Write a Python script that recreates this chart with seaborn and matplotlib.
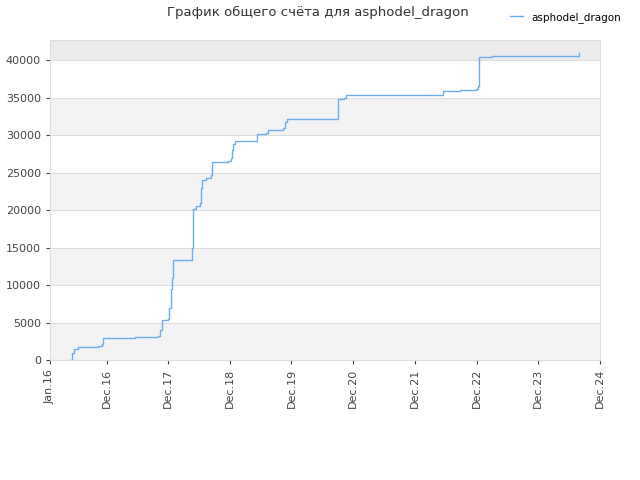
import matplotlib
matplotlib.use("Agg")
import matplotlib.pyplot as plt
import seaborn as sns
import pandas as pd
import matplotlib.dates as mdates

dates = ["2016-04-23","2016-05-11","2016-05-23","2016-06-15","2016-07-21","2016-10-12","2016-11-05","2016-11-11",
         "2017-05-08","2017-05-20","2017-10-04","2017-10-15","2017-10-27","2017-12-02","2017-12-08","2017-12-20","2017-12-26",
         "2018-01-01","2018-04-12","2018-04-18","2018-04-29","2018-05-17","2018-06-10","2018-06-16","2018-06-22","2018-07-10",
         "2018-08-14","2018-08-20","2018-11-23","2018-12-05","2018-12-11","2018-12-17","2018-12-29","2019-05-03","2019-05-09",
         "2019-07-01","2019-07-13","2019-10-10","2019-10-22","2019-11-03","2020-08-26","2020-09-01","2020-10-06","2020-10-18",
         "2021-07-13","2021-07-24","2022-05-07","2022-05-18","2022-08-22","2022-11-25","2022-12-07","2022-12-13","2022-12-18",
         "2023-02-28","2023-03-12","2024-07-23","2024-07-29"]
scores = [0,1000,1500,1700,1800,1900,2100,3000,
          3000,3100,3200,4000,5300,5500,7000,9500,11000,
          13300,13300,15000,20200,20500,21000,23000,24000,24300,
          24700,26400,26500,27000,28000,28800,29200,29200,30100,
          30300,30700,30900,31800,32200,32200,34800,34900,35400,
          35400,35300,35300,35900,36000,36100,36500,39000,40400,
          40500,40600,40600,40900]
tick_labels = ["Jan.16","Dec.16","Dec.17","Dec.18","Dec.19","Dec.20","Dec.21","Dec.22","Dec.23","Dec.24"]
tick_dates = ["2016-01-01","2016-12-01","2017-12-01","2018-12-01","2019-12-01","2020-12-01","2021-12-01","2022-12-01","2023-12-01","2024-12-01"]

df = pd.DataFrame({"date": pd.to_datetime(dates), "score": scores})

fig = plt.figure(figsize=(6.4, 4.8), dpi=100)
ax = fig.add_axes([50/640, 120/480, 550/640, 320/480])
ymax = 42700
for i, lo in enumerate(range(0, 45000, 5000)):
    c = "#f3f3f3" if i % 2 == 0 else "white"
    if lo == 40000:
        c = "#ececec"
    ax.axhspan(lo, min(lo + 5000, ymax), color=c, zorder=0, lw=0)
sns.lineplot(data=df, x="date", y="score", drawstyle="steps-post", color="#6aaef0", lw=1,
             ax=ax, label="asphodel_dragon", legend=False)
ax.set_xlim(pd.Timestamp("2016-01-01"), pd.Timestamp("2024-12-01"))
ax.set_ylim(0, ymax)
ax.set_yticks(range(0, 45000, 5000))
ax.set_xticks(pd.to_datetime(tick_dates))
ax.set_xticklabels(tick_labels, rotation=90)
ax.tick_params(labelsize=8, colors="#444444", length=3)
ax.grid(axis="y", color="#dddddd", lw=0.8)
ax.set_axisbelow(True)
for s in ax.spines.values():
    s.set_color("#dddddd")
ax.set_xlabel(""); ax.set_ylabel("")
fig.text(0.497, 0.973, "График общего счёта для asphodel_dragon", ha="center", va="center", fontsize=9.5, color="#333333")
fig.legend(loc="upper right", bbox_to_anchor=(0.985, 0.995), frameon=False, fontsize=7.5, handlelength=1.2)
fig.savefig("out.png", dpi=100)
